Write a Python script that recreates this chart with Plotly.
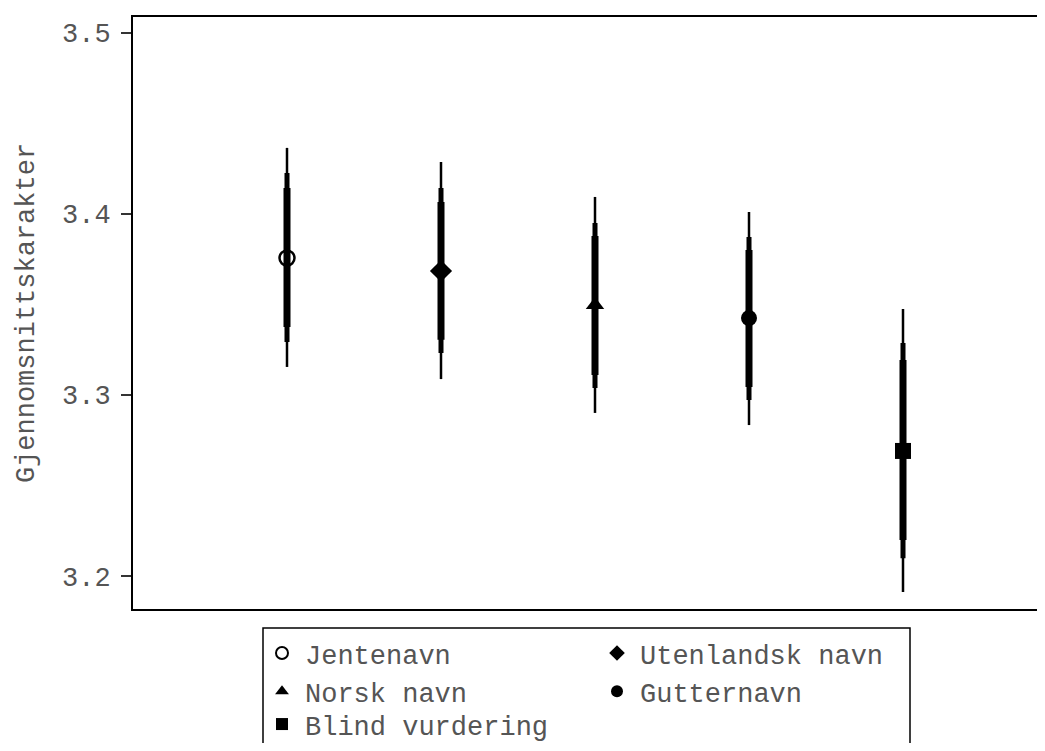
import plotly.graph_objects as go

categories = ["Jentenavn", "Utenlandsk navn", "Norsk navn", "Gutternavn", "Blind vurdering"]
x_pos = [1, 2, 3, 4, 5]
means = [3.3757, 3.3685, 3.3497, 3.3425, 3.2691]
ci_wide_lo = [3.3155, 3.3088, 3.2901, 3.2834, 3.1912]
ci_wide_hi = [3.4365, 3.4287, 3.4094, 3.4011, 3.3475]
ci_mid_lo = [3.3293, 3.3232, 3.3039, 3.2972, 3.2099]
ci_mid_hi = [3.4227, 3.4144, 3.3950, 3.3873, 3.3287]
ci_narrow_lo = [3.3376, 3.3305, 3.3110, 3.3044, 3.2199]
ci_narrow_hi = [3.4144, 3.4066, 3.3878, 3.3801, 3.3193]
symbols = ["circle-open", "diamond", "triangle-up", "circle", "square"]
legend_ids = ["legend", "legend2", "legend", "legend2", "legend3"]
y_ticks = [3.2, 3.3, 3.4, 3.5]

FONT = "Liberation Mono, Courier New, monospace"
TXT = "#555555"
FS = 27

fig = go.Figure()

for lo, hi, w in [(ci_wide_lo, ci_wide_hi, 2.5), (ci_mid_lo, ci_mid_hi, 5), (ci_narrow_lo, ci_narrow_hi, 7)]:
    xs, ys = [], []
    for x, a, b in zip(x_pos, lo, hi):
        xs += [x, x, None]
        ys += [a, b, None]
    fig.add_trace(go.Scatter(x=xs, y=ys, mode="lines", line=dict(color="black", width=w),
                             showlegend=False, hoverinfo="skip"))

sizes = {"circle-open": 15, "diamond": 17, "triangle-up": 16, "circle": 16, "square": 16}
for i, name in enumerate(categories):
    sym = symbols[i]
    fig.add_trace(go.Scatter(
        x=[x_pos[i]], y=[means[i]], mode="markers", name=name,
        legend=legend_ids[i], legendgroup=name,
        marker=dict(symbol=sym, size=sizes[sym], color="black",
                    line=dict(color="black", width=2.5 if sym == "circle-open" else 0)),
    ))

# page has an 8px body margin; figure sized to fit the window
OFF = 8
W, H = 1045 - 2 * OFF, 751 - 2 * OFF
plot_l, plot_t, plot_b = 133 - OFF, 17 - OFF, 609 - OFF
pw = W - plot_l
ph = plot_b - plot_t

def px_x(p):
    return (p - OFF - plot_l) / pw

def px_y(p):
    return (plot_b - (p - OFF)) / ph

def cont_y(p):
    return (H - (p - OFF)) / H

legend_common = dict(
    font=dict(family=FONT, size=FS, color=TXT),
    bgcolor="rgba(0,0,0,0)", borderwidth=0,
    xanchor="left", yanchor="top", tracegroupgap=0,
    traceorder="grouped", itemsizing="constant", itemwidth=36,
    yref="container", maxheight=400,
)

fig.update_layout(
    width=W, height=H,
    margin=dict(l=plot_l, r=0, t=plot_t, b=H - plot_b, autoexpand=False),
    paper_bgcolor="white", plot_bgcolor="white",
    font=dict(family=FONT, color=TXT),
    xaxis=dict(range=[0, pw / 154], showticklabels=False, ticks="", showgrid=False,
               zeroline=False, showline=True, mirror=True, linecolor="black", linewidth=2),
    yaxis=dict(range=[3.1818, 3.5088], tickvals=y_ticks, ticktext=[f"{v:.1f}" for v in y_ticks],
               ticks="outside", ticklen=10, tickwidth=1.5, tickcolor="#333333",
               ticklabelstandoff=5,
               tickfont=dict(family=FONT, size=FS, color=TXT),
               showgrid=False, zeroline=False, showline=True, mirror=False,
               linecolor="black", linewidth=2,
               title=dict(text="Gjennomsnittskarakter", font=dict(family=FONT, size=FS, color=TXT),
                          standoff=20)),
    legend=dict(x=px_x(259), y=cont_y(629), **legend_common),
    legend2=dict(x=px_x(594), y=cont_y(629), **legend_common),
    legend3=dict(x=px_x(259), y=cont_y(700), **legend_common),
    shapes=[dict(type="rect", xref="paper", yref="paper",
                 x0=px_x(263), x1=px_x(910), y0=px_y(628), y1=px_y(800),
                 line=dict(color="black", width=1.5), fillcolor="rgba(0,0,0,0)")],
)

fig.write_html("out.html")
